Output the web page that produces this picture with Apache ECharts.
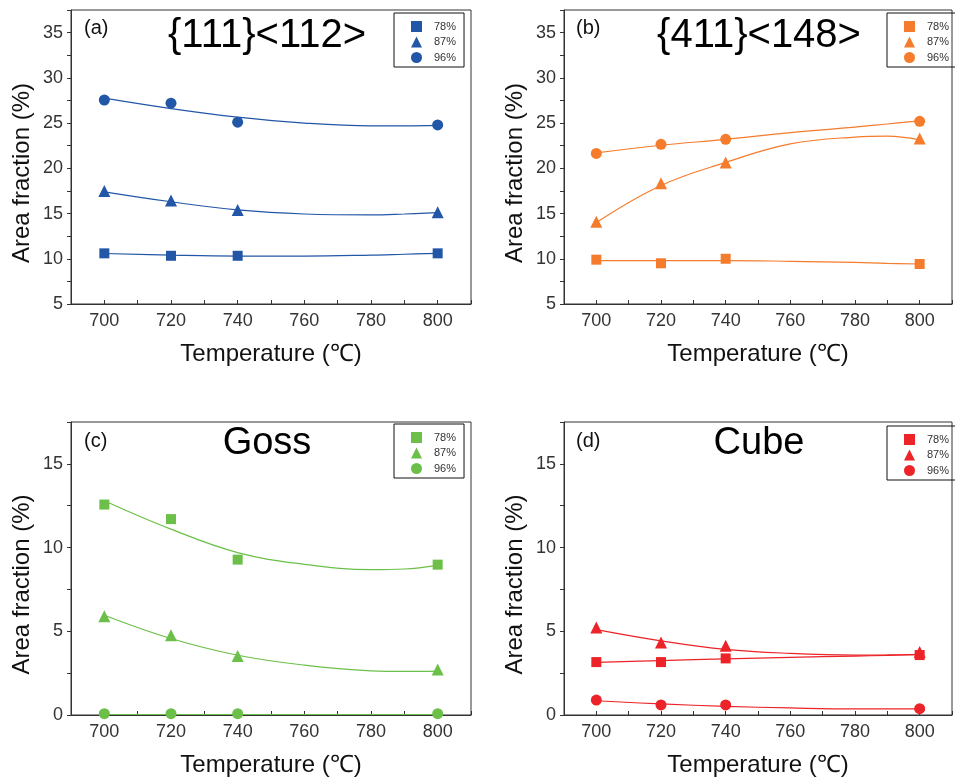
<!DOCTYPE html>
<html>
<head>
<meta charset="utf-8">
<script src="https://cdn.jsdelivr.net/npm/echarts@6/dist/echarts.min.js"></script>
<style>html,body{margin:0;padding:0;background:#fff}#c{width:955px;height:780px}</style>
</head>
<body>
<div id="c"></div>
<script>
// ---------- data ----------
const temps = [700, 720, 740, 800];
const fitTemps = [700, 720, 740, 760, 780, 790, 800];
const seriesNames = ['78%', '87%', '96%'];
const panelLabels = ['(a)', '(b)', '(c)', '(d)'];
const panelTitles = ['{111}<112>', '{411}<148>', 'Goss', 'Cube'];

// (a) {111}<112>
const a78 = [10.6, 10.33, 10.33, 10.6];
const a87 = [17.5, 16.45, 15.4, 15.15];
const a96 = [27.55, 27.2, 25.1, 24.8];
const a78fit = [10.58, 10.4, 10.3, 10.3, 10.4, 10.5, 10.6];
const a87fit = [17.4, 16.3, 15.4, 14.95, 14.85, 14.95, 15.1];
const a96fit = [27.75, 26.6, 25.65, 25.0, 24.7, 24.7, 24.75];
// (b) {411}<148>
const b78 = [9.9, 9.5, 10.0, 9.42];
const b87 = [14.1, 18.35, 20.65, 23.3];
const b96 = [21.65, 22.65, 23.2, 25.2];
const b78fit = [9.8, 9.8, 9.8, 9.72, 9.6, 9.5, 9.42];
const b87fit = [14.0, 18.1, 20.65, 22.7, 23.45, 23.55, 23.15];
const b96fit = [21.7, 22.55, 23.2, 23.95, 24.55, 24.9, 25.25];
// (c) Goss
const c78 = [12.57, 11.7, 9.28, 8.98];
const c87 = [5.9, 4.77, 3.52, 2.72];
const c96 = [0.08, 0.08, 0.08, 0.08];
const c78fit = [12.8, 11.1, 9.7, 9.0, 8.68, 8.72, 8.94];
const c87fit = [5.96, 4.57, 3.57, 2.98, 2.64, 2.6, 2.62];
const c96fit = [0.03, 0.03, 0.03, 0.03, 0.03, 0.03, 0.03];
// (d) Cube
const d78 = [3.16, 3.16, 3.38, 3.58];
const d87 = [5.22, 4.33, 4.13, 3.77];
const d96 = [0.89, 0.6, 0.6, 0.38];
const d78fit = [3.14, 3.25, 3.35, 3.44, 3.52, 3.56, 3.6];
const d87fit = [5.1, 4.43, 3.92, 3.68, 3.58, 3.59, 3.62];
const d96fit = [0.85, 0.66, 0.52, 0.42, 0.36, 0.36, 0.37];

const yRanges = [[5, 37.5], [5, 37.5], [0, 17.5], [0, 17.5]];
// ---------- styling ----------
const FONT = '"Liberation Sans", Arial, sans-serif';
const colors = ['#2256a6', '#f47c2c', '#6cbf48', '#ec2328'];
const symbols = ['rect', 'triangle', 'circle'];
const symbolSizes = [10, 12, 11];
const grids = [
  {left: 71, top: 10, width: 400, height: 294},
  {left: 564, top: 10, width: 400, height: 294},
  {left: 71, top: 422, width: 400, height: 293},
  {left: 564, top: 422, width: 400, height: 293}
];
const points = [[a78, a87, a96], [b78, b87, b96], [c78, c87, c96], [d78, d87, d96]];
const fits = [[a78fit, a87fit, a96fit], [b78fit, b87fit, b96fit], [c78fit, c87fit, c96fit], [d78fit, d87fit, d96fit]];
const legendPos = [[394, 13], [887, 13], [394, 424], [887, 426]];
const titlePos = [[267, 36], [759, 36], [267, 444], [759, 444]];
const titleSizes = [40, 40, 38, 38];
const labelPos = [[84, 28], [576, 28], [84, 441], [576, 441]];

const zip = (xs, ys) => xs.map((x, i) => [x, ys[i]]);

const option = {
  animation: false,
  backgroundColor: '#fff',
  grid: grids.map(g => Object.assign({show: true, borderColor: '#333', borderWidth: 1, containLabel: false}, g)),
  xAxis: grids.map((g, gi) => ({
    type: 'value', gridIndex: gi, min: 690, max: 810, interval: 10,
    axisLine: {show: true, onZero: false, lineStyle: {color: '#333', width: 1}},
    axisTick: {show: true, inside: true, length: 4, lineStyle: {color: '#333'}},
    axisLabel: {formatter: v => (v % 20 === 0 ? String(v) : ''), margin: 8, fontSize: 18, color: '#333', fontFamily: FONT},
    splitLine: {show: false},
    name: 'Temperature (℃)', nameLocation: 'middle', nameGap: 38,
    nameTextStyle: {fontSize: 24, color: '#111', fontFamily: FONT}
  })),
  yAxis: grids.map((g, gi) => ({
    type: 'value', gridIndex: gi, min: yRanges[gi][0], max: yRanges[gi][1], interval: 2.5,
    axisLine: {show: true, onZero: false, lineStyle: {color: '#333', width: 1}},
    axisTick: {show: true, inside: false, length: 4, lineStyle: {color: '#333'}},
    axisLabel: {formatter: v => (Math.abs(v % 5) < 1e-9 ? String(v) : ''), margin: 8, fontSize: 18, color: '#333', fontFamily: FONT},
    splitLine: {show: false},
    name: 'Area fraction (%)', nameLocation: 'middle', nameGap: 37,
    nameTextStyle: {fontSize: 24, color: '#111', fontFamily: FONT, padding: [0, 32, 0, 0]}
  })),
  legend: grids.map((g, gi) => ({
    orient: 'vertical', left: legendPos[gi][0], top: legendPos[gi][1],
    padding: [8, 8, 4, 17], itemGap: 4.5, itemWidth: 11, itemHeight: 11,
    borderColor: '#111', borderWidth: 1, selectedMode: false,
    textStyle: {fontSize: 11, color: '#333', fontFamily: FONT, padding: [0, 0, 0, 7], lineHeight: 11},
    data: seriesNames.map((n, k) => ({name: n, icon: symbols[k], itemStyle: {color: colors[gi], borderWidth: 0}}))
  })),
  graphic: [].concat(
    panelTitles.map((t, gi) => ({
      type: 'text', x: titlePos[gi][0], y: titlePos[gi][1], silent: true,
      style: {text: t, fill: '#000', font: titleSizes[gi] + 'px ' + FONT, textAlign: 'center', textVerticalAlign: 'middle'}
    })),
    panelLabels.map((t, gi) => ({
      type: 'text', x: labelPos[gi][0], y: labelPos[gi][1], silent: true,
      style: {text: t, fill: '#111', font: '20px ' + FONT, textAlign: 'left', textVerticalAlign: 'middle'}
    }))
  ),
  series: []
};

grids.forEach((g, gi) => {
  seriesNames.forEach((n, k) => {
    option.series.push({
      type: 'line', name: 'fit ' + n, xAxisIndex: gi, yAxisIndex: gi,
      data: zip(fitTemps, fits[gi][k]), smooth: 0.4, showSymbol: false, symbol: 'none',
      lineStyle: {color: colors[gi], width: 1.2}, z: 2
    });
    option.series.push({
      type: 'scatter', name: n, xAxisIndex: gi, yAxisIndex: gi,
      data: zip(temps, points[gi][k]), symbol: symbols[k], symbolSize: symbolSizes[k],
      itemStyle: {color: colors[gi], opacity: 1}, z: 3
    });
  });
});

const chart = echarts.init(document.getElementById('c'), null, {renderer: 'canvas'});
chart.setOption(option);
</script>
</body>
</html>
